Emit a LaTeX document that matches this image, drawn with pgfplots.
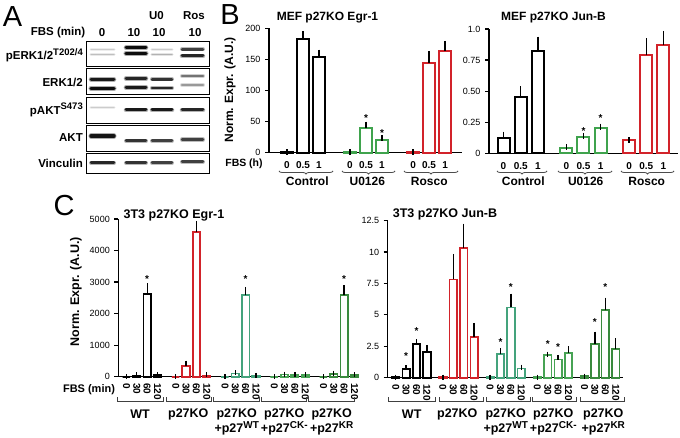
\documentclass[border=0pt]{standalone}
\usepackage{pgfplots}
\pgfplotsset{compat=1.18}
\usepackage{fontspec}
\setmainfont{Liberation Sans}
\usetikzlibrary{decorations.pathreplacing}
\definecolor{cred}{HTML}{D2232A}
\definecolor{cgreen}{HTML}{3FA34D}
\definecolor{cteal}{HTML}{44A37C}
\definecolor{cgreenb}{HTML}{47A354}
\definecolor{cdgreen}{HTML}{3A8A3E}
\newcommand{\fs}[1]{\fontsize{#1}{#1}\selectfont}
\newcommand{\supx}[2]{\raisebox{0.38em}{\fs{#1}#2}}
\newcommand{\band}[5]{%
 \addplot[line width={#5+1.6pt}, line cap=round, color=black!#4, opacity=0.35] coordinates {(#1,-#3) (#2,-#3)};
 \addplot[line width=#5, line cap=round, color=black!#4] coordinates {(#1,-#3) (#2,-#3)};}
\pgfplotsset{
 bax/.style={
  scale only axis, anchor=south west, clip=false,
  axis x line*=bottom, axis y line*=left,
  axis line style={-, line width=1.5pt, black},
  ymin=0, scaled y ticks=false,
  tick align=outside, major tick length=4pt,
  ytick style={line width=1.2pt, black},
  xtick style={draw=none},
  yticklabel style={font=\fs{9}, xshift=-1pt},
  /pgf/number format/assume math mode=true,
 },
 bbar/.style={ybar, bar shift=0pt, bar width=12pt, fill=white, draw=#1, line width=2pt,
  error bars/y dir=plus, error bars/y explicit,
  error bars/error bar style={line width=1.4pt, black},
  error bars/error mark options={line width=1.4pt, black, mark size=3pt}},
 cbar/.style={ybar, bar shift=0pt, bar width=7.5pt, fill=white, draw=#1, line width=1.7pt,
  error bars/y dir=plus, error bars/y explicit,
  error bars/error bar style={line width=1.3pt, black},
  error bars/error mark options={line width=1.3pt, black, mark size=2.5pt}},
}
\begin{document}
\begin{tikzpicture}[x=1pt,y=1pt]
\useasboundingbox (0pt,0pt) rectangle (680pt,438pt);
% panel letters
\node[font=\fs{29}] at (12.5,421) {A};
\node[font=\fs{29}] at (230,423) {B};
\node[font=\fs{29}] at (64,232) {C};

% ---------------- Panel A (blots) ----------------
\node[font=\fs{11.5}\bfseries] at (58,405.7) {FBS (min)};
\node[font=\fs{11.5}\bfseries] at (102,405.7) {0};
\node[font=\fs{11.5}\bfseries] at (134,405.7) {10};
\node[font=\fs{11.5}\bfseries] at (159,405.7) {10};
\node[font=\fs{11.5}\bfseries] at (195,405.7) {10};
\node[font=\fs{11.5}\bfseries] at (156.5,422) {U0};
\node[font=\fs{11.5}\bfseries] at (194,422) {Ros};
\node[font=\fs{11.5}\bfseries, anchor=east, inner sep=1pt] at (84,383) {pERK1/2\supx{9.5}{T202/4}};
\node[font=\fs{11.5}\bfseries, anchor=east, inner sep=1pt] at (84,356) {ERK1/2};
\node[font=\fs{11.5}\bfseries, anchor=east, inner sep=1pt] at (84,328) {pAKT\supx{9.5}{S473}};
\node[font=\fs{11.5}\bfseries, anchor=east, inner sep=1pt] at (84,300) {AKT};
\node[font=\fs{11.5}\bfseries, anchor=east, inner sep=1pt] at (84,275) {Vinculin};
\begin{axis}[at={(86.7pt,263.3pt)}, anchor=south west, scale only axis, width=122.3pt, height=134pt,
  xmin=86.7, xmax=209, ymin=-174.7, ymax=-40.7, hide axis, clip=false]
 % pERK
 \band{91}{114}{49.3}{20}{1.5pt} \band{91}{114}{54.3}{25}{1.5pt}
 \band{126}{146}{47.7}{95}{3pt} \band{126}{146}{53.3}{95}{3.5pt}
 \band{152}{172}{49.3}{20}{1.5pt} \band{152}{172}{54.3}{30}{1.5pt}
 \band{182}{203}{49.3}{75}{2.5pt} \band{182}{203}{56}{85}{3pt}
 % ERK
 \band{91}{114}{79.3}{90}{3pt} \band{91}{114}{88.3}{95}{3.5pt}
 \band{126}{146}{78.5}{85}{3pt} \band{126}{146}{87.5}{90}{3pt}
 \band{152}{172}{79.3}{80}{2.5pt} \band{152}{172}{88}{85}{2.5pt}
 \band{182}{203}{76}{55}{2.5pt} \band{182}{203}{85}{40}{2.5pt}
 % pAKT
 \band{91}{114}{107.3}{20}{1.5pt}
 \band{126}{146}{110}{90}{3pt} \band{152}{172}{110}{90}{3pt} \band{182}{203}{110}{85}{3pt}
 % AKT
 \band{91}{114}{136}{92}{3.5pt}
 \band{126}{146}{140.7}{80}{2.5pt} \band{152}{172}{140.7}{75}{2.5pt} \band{182}{203}{139.5}{75}{2.5pt}
 % Vinculin
 \band{91}{114}{162.7}{85}{2.5pt} \band{126}{146}{162.7}{80}{2.5pt} \band{152}{172}{162.7}{75}{2.5pt} \band{182}{203}{161.7}{75}{2.5pt}
 \draw[line width=1pt] (axis cs:86.7,-41.7) rectangle (axis cs:209,-66.7);
 \draw[line width=1pt] (axis cs:86.7,-69) rectangle (axis cs:209,-95);
 \draw[line width=1pt] (axis cs:86.7,-97.3) rectangle (axis cs:209,-123.3);
 \draw[line width=1pt] (axis cs:86.7,-125.7) rectangle (axis cs:209,-151.7);
 \draw[line width=1pt] (axis cs:86.7,-153.3) rectangle (axis cs:209,-174);
\end{axis}

% ---------------- Panel B: Egr-1 ----------------
\node[font=\fs{12}\bfseries] at (327.5,420) {MEF p27KO Egr-1};
\node[font=\fs{12}\bfseries, rotate=90] at (230,348) {Norm. Expr. (A.U.)};
\begin{axis}[bax, at={(269pt,285.3pt)}, width=193pt, height=124.4pt,
  xmin=-1.125, xmax=10.94, ymax=200, ytick={0,50,100,150,200},
  xtick={0,1,2,3.94,4.94,5.94,7.88,8.88,9.88},
  xticklabels={0,0.5,1,0,0.5,1,0,0.5,1},
  xticklabel style={font=\fs{10}\bfseries, yshift=-1.5pt}]
 \addplot[bbar=black] coordinates {(0,1) +- (0,0)};
 \addplot[bbar=black] coordinates {(1,182) +- (0,9) (2,154) +- (0,7)};
 \addplot[bbar=cgreen] coordinates {(3.94,0.6) +- (0,0)};
 \addplot[bbar=cgreen] coordinates {(4.94,39) +- (0,6) (5.94,20.5) +- (0,3.5)};
 \addplot[bbar=cred] coordinates {(7.88,1) +- (0,0)};
 \addplot[bbar=cred] coordinates {(8.88,145) +- (0,14) (9.88,164) +- (0,11)};
 \node[font=\fs{10}\bfseries] at (axis cs:4.94,55) {*};
 \node[font=\fs{10}\bfseries] at (axis cs:5.94,31) {*};
\end{axis}
\node[font=\fs{10.5}\bfseries] at (244,274.5) {FBS (h)};
\begin{scope}[line width=0.8pt, color=black!70]
 \draw[decorate, decoration={brace, mirror, amplitude=3pt}] (279,267) -- (333,267);
 \draw[decorate, decoration={brace, mirror, amplitude=3pt}] (342,267) -- (395,267);
 \draw[decorate, decoration={brace, mirror, amplitude=3pt}] (404,267) -- (458,267);
\end{scope}
\node[font=\fs{12}\bfseries] at (307.3,256.5) {Control};
\node[font=\fs{12}\bfseries] at (367.3,256.5) {U0126};
\node[font=\fs{12}\bfseries] at (429.3,256.5) {Rosco};

% ---------------- Panel B: Jun-B ----------------
\node[font=\fs{12}\bfseries] at (553.5,420) {MEF p27KO Jun-B};
\begin{axis}[bax, at={(489pt,284.7pt)}, width=189pt, height=124.3pt,
  xmin=-0.843, xmax=10.145, ymax=1, ytick={0,0.25,0.5,0.75,1},
  yticklabels={0,0.25,0.50,0.75,1.0},
  xtick={0,1,2,3.65,4.65,5.65,7.3,8.3,9.3},
  xticklabels={0,0.5,1,0,0.5,1,0,0.5,1},
  xticklabel style={font=\fs{10}\bfseries, yshift=-1.5pt}]
 \addplot[bbar=black] coordinates {(0,0.12) +- (0,0.03) (1,0.45) +- (0,0.065) (2,0.825) +- (0,0.09)};
 \addplot[bbar=cgreen] coordinates {(3.65,0.04) +- (0,0.01) (4.65,0.129) +- (0,0.012) (5.65,0.204) +- (0,0.011)};
 \addplot[bbar=cred] coordinates {(7.3,0.105) +- (0,0)};
 \addplot[bbar=cred] coordinates {(8.3,0.79) +- (0,0.11) (9.3,0.87) +- (0,0.09)};
 \node[font=\fs{10}\bfseries] at (axis cs:4.65,0.18) {*};
 \node[font=\fs{10}\bfseries] at (axis cs:5.65,0.28) {*};
\end{axis}
\begin{scope}[line width=0.8pt, color=black!70]
 \draw[decorate, decoration={brace, mirror, amplitude=3pt}] (497,267) -- (547,267);
 \draw[decorate, decoration={brace, mirror, amplitude=3pt}] (558,267) -- (612,267);
 \draw[decorate, decoration={brace, mirror, amplitude=3pt}] (621,267) -- (674,267);
\end{scope}
\node[font=\fs{12}\bfseries] at (523.3,256.5) {Control};
\node[font=\fs{12}\bfseries] at (585.7,256.5) {U0126};
\node[font=\fs{12}\bfseries] at (646.7,256.5) {Rosco};

% ---------------- Panel C: Egr-1 ----------------
\node[font=\fs{12.5}\bfseries] at (174,223) {3T3 p27KO Egr-1};
\node[font=\fs{12.5}\bfseries, rotate=90] at (76,146.3) {Norm. Expr. (A.U.)};
\begin{axis}[bax, at={(118.3pt,61.3pt)}, width=236.7pt, height=157.7pt,
  xmin=-0.79, xmax=22.09, ymax=5000, ytick={0,1000,2000,3000,4000,5000},
  yticklabels={0,1000,2000,3000,4000,5000},
  xtick={0,1,2,3,4.76,5.76,6.76,7.76,9.52,10.52,11.52,12.52,14.28,15.28,16.28,17.28,19.04,20.04,21.04,22.04},
  xticklabels={0,30,60,120,0,30,60,120,0,30,60,120,0,30,60,120,0,30,60,120},
  xticklabel style={font=\fs{10}\bfseries, rotate=-90, anchor=west, xshift=-1pt}]
 \addplot[cbar=black] coordinates {(0,0) +- (0,0)};
 \addplot[cbar=black] coordinates {(1,40) +- (0,15) (2,2620) +- (0,266) (3,50) +- (0,15)};
 \addplot[cbar=cred] coordinates {(4.76,0) +- (0,0)};
 \addplot[cbar=cred] coordinates {(5.76,338) +- (0,95) (6.76,4598) +- (0,265) (7.76,40) +- (0,15)};
 \addplot[cbar=cteal] coordinates {(9.52,0) +- (0,0)};
 \addplot[cbar=cteal] coordinates {(10.52,100) +- (0,20) (11.52,2580) +- (0,190) (12.52,30) +- (0,10)};
 \addplot[cbar=cgreenb] coordinates {(14.28,0) +- (0,0)};
 \addplot[cbar=cgreenb] coordinates {(15.28,70) +- (0,15) (16.28,60) +- (0,15) (17.28,50) +- (0,10)};
 \addplot[cbar=cdgreen] coordinates {(19.04,0) +- (0,0)};
 \addplot[cbar=cdgreen] coordinates {(20.04,90) +- (0,20) (21.04,2580) +- (0,242) (22.04,50) +- (0,15)};
 \node[font=\fs{10}\bfseries] at (axis cs:2,3080) {*};
 \node[font=\fs{10}\bfseries] at (axis cs:11.52,3080) {*};
 \node[font=\fs{10}\bfseries] at (axis cs:21.04,3080) {*};
\end{axis}
\node[font=\fs{11}\bfseries] at (89,48) {FBS (min)};
\begin{scope}[line width=0.8pt, color=black!75]
 \foreach \a/\b in {117/163, 166/211, 213.5/259, 261/306, 308.5/354}
  \draw (\a,40.5) -- (\a,36.3) -- (\b,36.3) -- (\b,40.5);
 \foreach \a/\b in {388.5/435, 439/483.5, 486/530.5, 532.5/576.5, 580/624}
  \draw (\a,40.5) -- (\a,36.3) -- (\b,36.3) -- (\b,40.5);
\end{scope}
\begin{scope}[font=\fs{12.5}\bfseries]
 \node at (140,24) {WT};
 \node at (188.3,24) {p27KO};
 \node at (236.7,24) {p27KO};
 \node at (236.7,9.7) {+p27\supx{10}{WT}};
 \node at (284.3,24) {p27KO};
 \node at (284.3,9.7) {+p27\supx{10}{CK-}};
 \node at (331.7,24) {p27KO};
 \node at (331.7,9.7) {+p27\supx{10}{KR}};
 \node at (411.7,24) {WT};
 \node at (457.3,24) {p27KO};
 \node at (505.7,24) {p27KO};
 \node at (505.7,9.7) {+p27\supx{10}{WT}};
 \node at (553.3,24) {p27KO};
 \node at (553.3,9.7) {+p27\supx{10}{CK-}};
 \node at (603.3,24) {p27KO};
 \node at (603.3,9.7) {+p27\supx{10}{KR}};
\end{scope}

% ---------------- Panel C: Jun-B ----------------
\node[font=\fs{12.5}\bfseries] at (445,224) {3T3 p27KO Jun-B};
\begin{axis}[bax, at={(387.7pt,60.3pt)}, width=235.3pt, height=157pt,
  xmin=-0.77, xmax=21.86, ymax=12.5, ytick={0,2.5,5,7.5,10,12.5},
  yticklabels={0,2.5,5,7.5,10,12.5},
  xtick={0,1,2,3,4.54,5.54,6.54,7.54,9.08,10.08,11.08,12.08,13.62,14.62,15.62,16.62,18.16,19.16,20.16,21.16},
  xticklabels={0,30,60,120,0,30,60,120,0,30,60,120,0,30,60,120,0,30,60,120},
  xticklabel style={font=\fs{10}\bfseries, rotate=-90, anchor=west, xshift=-1pt}]
 \addplot[cbar=black] coordinates {(0,0.05) +- (0,0)};
 \addplot[cbar=black] coordinates {(1,0.69) +- (0,0.11) (2,2.68) +- (0,0.18) (3,2.02) +- (0,0.39)};
 \addplot[cbar=cred] coordinates {(4.54,0.05) +- (0,0)};
 \addplot[cbar=cred] coordinates {(5.54,7.82) +- (0,1.83) (6.54,10.34) +- (0,1.73) (7.54,3.26) +- (0,0.9)};
 \addplot[cbar=cteal] coordinates {(9.08,0.05) +- (0,0)};
 \addplot[cbar=cteal] coordinates {(10.08,1.88) +- (0,0.27) (11.08,5.6) +- (0,0.9) (12.08,0.74) +- (0,0.11)};
 \addplot[cbar=cgreenb] coordinates {(13.62,0.04) +- (0,0)};
 \addplot[cbar=cgreenb] coordinates {(14.62,1.83) +- (0,0.05) (15.62,1.46) +- (0,0.16) (16.62,1.99) +- (0,0.32)};
 \addplot[cbar=cdgreen] coordinates {(18.16,0.13) +- (0,0)};
 \addplot[cbar=cdgreen] coordinates {(19.16,2.7) +- (0,0.77) (20.16,5.38) +- (0,0.8) (21.16,2.31) +- (0,0.63)};
 \node[font=\fs{10}\bfseries] at (axis cs:1,1.75) {*};
 \node[font=\fs{10}\bfseries] at (axis cs:2,3.75) {*};
 \node[font=\fs{10}\bfseries] at (axis cs:10.08,2.85) {*};
 \node[font=\fs{10}\bfseries] at (axis cs:11.08,7.2) {*};
 \node[font=\fs{10}\bfseries] at (axis cs:14.62,2.7) {*};
 \node[font=\fs{10}\bfseries] at (axis cs:15.62,2.42) {*};
 \node[font=\fs{10}\bfseries] at (axis cs:19.16,4.4) {*};
 \node[font=\fs{10}\bfseries] at (axis cs:20.16,7.2) {*};
\end{axis}
\end{tikzpicture}
\end{document}
